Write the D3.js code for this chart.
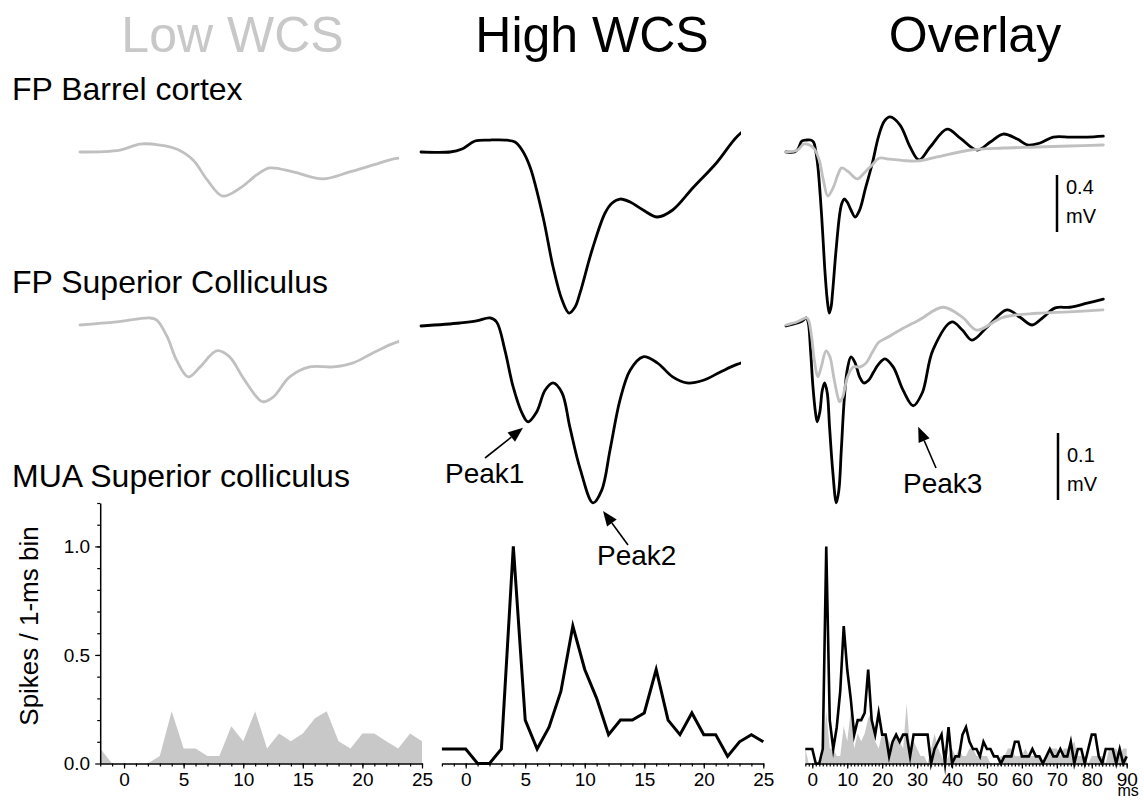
<!DOCTYPE html>
<html><head><meta charset="utf-8">
<script src="https://cdn.jsdelivr.net/npm/d3@7"></script>
<style>body{margin:0;background:#fff} text{font-family:"Liberation Sans",Arial,sans-serif}</style>
</head><body><svg id="c" width="1144" height="800"></svg>
<script>
// ---------- DATA ----------
const columnTitles = ["Low WCS", "High WCS", "Overlay"];
const rowLabels = ["FP Barrel cortex", "FP Superior Colliculus", "MUA Superior colliculus"];

// Field potential, barrel cortex, high WCS (time ms, mV)
const tBarrelHigh = [-2, 0.46, 1.47, 2.57, 3.84, 5.11, 5.96, 6.55, 7.23, 8.33, 9.18, 9.94, 10.53, 11.04, 11.46, 12.48, 13.58, 14.18, 14.85, 15.7, 16.8, 18.0, 19.3, 21.0, 23.0, 24.8, 26.5, 28.1, 31.0, 33.9, 36.5, 39.7, 44.6, 48.4, 53.3, 57.1, 60.8, 64.9, 68.0, 71.5, 75.3, 80.2, 85.1, 89.8];
const vBarrelHigh = [0, 0, 0.021, 0.077, 0.084, 0.084, 0.070, 0.014, -0.105, -0.456, -0.807, -1.039, -1.130, -1.088, -0.989, -0.688, -0.428, -0.358, -0.330, -0.351, -0.407, -0.456, -0.407, -0.253, -0.077, 0.112, 0.218, 0.246, 0.189, 0.035, -0.056, 0.035, 0.161, 0.098, 0.014, 0.070, 0.126, 0.091, 0.049, 0.063, 0.105, 0.105, 0.105, 0.112];
// Field potential, barrel cortex, low WCS
const tBarrelLow = [-2, 1.4, 3.1, 4.8, 6.2, 7.6, 8.8, 10.1, 11.6, 13.0, 14.1, 16.1, 18.6, 20.9, 22.9, 24.9, 28.0, 32.0, 36.0, 41.7, 51.3, 60.8, 70.6, 80.0, 89.8];
const vBarrelLow = [0, 0.014, 0.056, 0.049, 0.021, -0.056, -0.196, -0.309, -0.253, -0.161, -0.112, -0.140, -0.189, -0.140, -0.091, -0.044, -0.050, -0.060, -0.063, -0.035, 0.014, 0.028, 0.035, 0.042, 0.049];
// Field potential, superior colliculus, high WCS
const tSCHigh = [-2, 1.3, 2.7, 3.84, 4.4, 5.1, 5.8, 6.55, 7.06, 7.8, 8.5, 9.18, 9.94, 10.6, 11.5, 12.56, 13.3, 14.0, 14.85, 15.7, 16.8, 18.0, 19.3, 20.5, 21.9, 23.3, 24.8, 26.6, 29, 31.9, 34.8, 37.4, 40.5, 46, 49, 51.8, 56.2, 61.9, 65.7, 69.2, 72.4, 75.9, 80.2, 85.1, 89.8];
const vSCHigh = [0, 0.0045, 0.0075, 0.012, 0.006, -0.036, -0.091, -0.130, -0.143, -0.128, -0.096, -0.085, -0.100, -0.151, -0.215, -0.264, -0.245, -0.185, -0.110, -0.066, -0.046, -0.055, -0.076, -0.085, -0.081, -0.069, -0.057, -0.049, -0.061, -0.096, -0.119, -0.100, -0.036, 0.006, -0.006, -0.021, -0.0015, 0.024, 0.013, 0.0015, 0.013, 0.027, 0.028, 0.034, 0.040];
// Field potential, superior colliculus, low WCS
const tSCLow = [-2, 1.1, 3.9, 4.5, 5.4, 6.2, 7.2, 8.2, 9.6, 10.7, 11.8, 13.0, 13.5, 14.4, 15.8, 17.5, 19.5, 21.2, 22.9, 24.9, 27, 31, 36.5, 43.4, 49.1, 53.2, 60.8, 70.6, 80, 89.7];
const vSCLow = [0.0015, 0.006, 0.012, 0.009, -0.016, -0.051, -0.076, -0.061, -0.037, -0.046, -0.076, -0.106, -0.113, -0.106, -0.076, -0.061, -0.061, -0.055, -0.040, -0.024, -0.018, -0.006, 0.009, 0.028, 0.013, -0.006, 0.013, 0.019, 0.021, 0.024];

// MUA, spikes per 1-ms bin, bins -2 .. 90 ms
const muaBins = d3.range(-2, 91);
const muaHigh = [
  0.067, 0.067, 0.067, 0, 0, 0.067, 1.0, 0.2, 0.067, 0.167, 0.333, 0.633, 0.433, 0.3, 0.133, 0.2, 0.2, 0.233, 0.433, 0.2, 0.133, 0.233, 0.133, 0.133, 0.033, 0.1, 0.133, 0.1,
  0.133, 0.133, 0.033, 0.133, 0.133, 0.133, 0.133, 0.133, 0, 0.067, 0.1, 0.133, 0, 0.167, 0, 0.033, 0.033, 0.133, 0.167, 0.1, 0.067, 0.067, 0.033, 0.1, 0.067, 0.067, 0.033, 0.033, 0,
  0.033, 0.033, 0.033, 0.1, 0.1, 0.033, 0.033, 0.033, 0.067, 0.033, 0.033, 0, 0.033, 0.067, 0.033, 0.033, 0.067, 0.033, 0.033, 0.1, 0, 0.067, 0.067, 0, 0.067, 0.133, 0.133, 0.033, 0,
  0.067, 0.067, 0.067, 0, 0.067, 0, 0.033];
const muaLow = [
  0.069, 0, 0, 0, 0, 0.034, 0.241, 0.069, 0.069, 0.034, 0.034, 0.172, 0.103, 0.241, 0.069, 0.138, 0.103, 0.138, 0.207, 0.241, 0.103, 0.069, 0.138, 0.138, 0.103, 0.069, 0.138, 0.103,
  0.069, 0.276, 0.069, 0.103, 0.069, 0.034, 0.034, 0, 0.069, 0.138, 0.069, 0.034, 0, 0.034, 0.069, 0.034, 0.069, 0.034, 0.034, 0.069, 0.069, 0.034, 0.034, 0.034, 0.034, 0, 0, 0,
  0.034, 0.034, 0.069, 0.069, 0.034, 0.034, 0.034, 0.069, 0.034, 0.034, 0.034, 0.034, 0, 0.034, 0.069, 0.069, 0.069, 0.034, 0.069, 0.069, 0.069, 0.103, 0.034, 0.034, 0.034, 0, 0.034,
  0.034, 0.034, 0.034, 0, 0.069, 0.069, 0.069, 0.034, 0.069, 0.069];

const muaYTicks = [0, 0.5, 1.0];
const shortXTicks = [0, 5, 10, 15, 20, 25];
const longXTicks = [0, 10, 20, 30, 40, 50, 60, 70, 80, 90];
const timeUnit = "ms";
const scaleBars = [{value: 0.4, label: "0.4", unit: "mV"}, {value: 0.1, label: "0.1", unit: "mV"}];
const peakLabels = ["Peak1", "Peak2", "Peak3"];

// ---------- DRAWING ----------
const svg = d3.select("#c");
const BLACK = "#000", GRAY = "#c0c0c0", FILL = "#c8c8c8";
const FONT = '"Liberation Sans", Arial, sans-serif';

const fpX = {
  low: d3.scaleLinear().domain([-2, 25]).range([80, 398]),
  high: d3.scaleLinear().domain([-2, 25]).range([421, 740]),
  over: d3.scaleLinear().domain([-2, 90]).range([786, 1104])
};
const yBarrel = d3.scaleLinear().domain([0, 0.4]).range([152, 95]);
const ySC = d3.scaleLinear().domain([0, 0.1]).range([326, 259]);

const defs = svg.append("defs");
Object.entries(fpX).forEach(([k, s]) => {
  defs.append("clipPath").attr("id", "clip-" + k).append("rect")
    .attr("x", s.range()[0] - 2).attr("y", 0).attr("width", s.range()[1] - s.range()[0] + 3).attr("height", 800);
});

function trace(key, ys, times, vals, color) {
  const xs = fpX[key];
  const pts = times.map((t, i) => [t, vals[i]]);
  svg.append("path").datum(pts)
    .attr("d", d3.line().x(d => xs(d[0])).y(d => ys(d[1])).curve(d3.curveCatmullRom.alpha(0.5)))
    .attr("fill", "none").attr("stroke", color).attr("stroke-width", 2.8)
    .attr("stroke-linejoin", "round").attr("stroke-linecap", "round")
    .attr("clip-path", `url(#clip-${key})`);
}

// Row 1: barrel
trace("low", yBarrel, tBarrelLow, vBarrelLow, GRAY);
trace("high", yBarrel, tBarrelHigh, vBarrelHigh, BLACK);
trace("over", yBarrel, tBarrelHigh, vBarrelHigh, BLACK);
trace("over", yBarrel, tBarrelLow, vBarrelLow, GRAY);
// Row 2: SC
trace("low", ySC, tSCLow, vSCLow, GRAY);
trace("high", ySC, tSCHigh, vSCHigh, BLACK);
trace("over", ySC, tSCHigh, vSCHigh, BLACK);
trace("over", ySC, tSCLow, vSCLow, GRAY);

// ---------- MUA ----------
const muaY = d3.scaleLinear().domain([0, 1.2]).range([763.5, 503]);
const muaX = {
  low: d3.scaleLinear().domain([-2, 25]).range([100.2, 422]),
  high: d3.scaleLinear().domain([-2, 25]).range([441.9, 763.3]),
  over: d3.scaleLinear().domain([-2, 90]).range([805.3, 1126.7])
};
const lowPts = muaBins.map((b, i) => [b, muaLow[i]]);
const highPts = muaBins.map((b, i) => [b, muaHigh[i]]);

function muaArea(key, pts) {
  const xs = muaX[key];
  const dmax = xs.domain()[1];
  svg.append("path").datum(pts.filter(d => d[0] <= dmax))
    .attr("d", d3.area().x(d => xs(d[0])).y0(muaY(0)).y1(d => muaY(d[1])))
    .attr("fill", FILL).attr("stroke", "none");
}
function muaLine(key, pts, w) {
  const xs = muaX[key];
  const dmax = xs.domain()[1];
  svg.append("path").datum(pts.filter(d => d[0] <= dmax))
    .attr("d", d3.line().x(d => xs(d[0])).y(d => muaY(d[1])))
    .attr("fill", "none").attr("stroke", BLACK).attr("stroke-width", w)
    .attr("stroke-linejoin", "miter").attr("stroke-miterlimit", 10);
}
muaArea("low", lowPts);
muaArea("over", lowPts);

function styleAxis(g) {
  g.attr("font-family", FONT);
  g.selectAll(".domain").attr("stroke", BLACK).attr("stroke-width", 1.5);
  g.selectAll(".tick line").attr("stroke", BLACK).attr("stroke-width", 1.2);
  g.selectAll(".tick text").attr("fill", BLACK).attr("font-size", 19);
}
function xAxis(key, majors) {
  const s = muaX[key];
  const [a, b] = s.domain();
  const minors = d3.range(a, b + 1);
  const g1 = svg.append("g").attr("transform", `translate(0,${muaY(0)})`)
    .call(d3.axisBottom(s).tickValues(minors).tickSize(3).tickFormat("").tickSizeOuter(0));
  styleAxis(g1);
  const g2 = svg.append("g").attr("transform", `translate(0,${muaY(0)})`)
    .call(d3.axisBottom(s).tickValues(majors).tickSize(5).tickPadding(4).tickFormat(d3.format("d")).tickSizeOuter(0));
  styleAxis(g2);
  g2.select(".domain").remove();
  return g2;
}
xAxis("low", shortXTicks);
xAxis("high", shortXTicks);
const gOver = xAxis("over", longXTicks);
// last tick label carries the unit on a second line
gOver.selectAll(".tick").filter(d => d === 90).select("text").each(function(d) {
  const t = d3.select(this);
  t.text(null);
  t.append("tspan").attr("x", 0).text(d);
  t.append("tspan").attr("x", 1).attr("dy", 10).attr("font-size", 16).text(timeUnit);
});

// y axis (left panel)
const gyMinor = svg.append("g").attr("transform", `translate(${muaX.low.range()[0]},0)`)
  .call(d3.axisLeft(muaY).tickValues(d3.range(1, 13).map(d => d / 10)).tickSize(3).tickFormat("").tickSizeOuter(0));
styleAxis(gyMinor);
const gyMajor = svg.append("g").attr("transform", `translate(${muaX.low.range()[0]},0)`)
  .call(d3.axisLeft(muaY).tickValues(muaYTicks).tickSize(5).tickPadding(5).tickFormat(d3.format(".1f")).tickSizeOuter(0));
styleAxis(gyMajor);
gyMajor.select(".domain").remove();

muaLine("high", highPts, 3);
muaLine("over", highPts, 2.6);

svg.append("text").attr("transform", `translate(38,626) rotate(-90)`)
  .attr("text-anchor", "middle").attr("font-size", 26).attr("fill", BLACK).text("Spikes / 1-ms bin");

// ---------- TITLES & LABELS ----------
const titleX = [232.5, 592, 975];
const titleColor = ["#c8c8c8", BLACK, BLACK];
columnTitles.forEach((t, i) => {
  svg.append("text").attr("x", titleX[i]).attr("y", 52).attr("text-anchor", "middle")
    .attr("font-size", 50).attr("fill", titleColor[i]).text(t);
});
const rowY = [100, 293, 487];
rowLabels.forEach((t, i) => {
  svg.append("text").attr("x", 12).attr("y", rowY[i]).attr("font-size", 32).attr("fill", BLACK).text(t);
});

// ---------- SCALE BARS ----------
const barDefs = [{x: 1057, top: 175, scale: yBarrel, ty1: 194, ty2: 223},
                 {x: 1058, top: 433, scale: ySC, ty1: 462, ty2: 491}];
scaleBars.forEach((sb, i) => {
  const b = barDefs[i];
  const len = b.scale(0) - b.scale(sb.value);
  svg.append("line").attr("x1", b.x).attr("x2", b.x).attr("y1", b.top).attr("y2", b.top + len)
    .attr("stroke", BLACK).attr("stroke-width", 2.5);
  svg.append("text").attr("x", b.x + 9).attr("y", b.ty1).attr("font-size", 20).attr("fill", BLACK).text(sb.label);
  svg.append("text").attr("x", b.x + 9).attr("y", b.ty2).attr("font-size", 20).attr("fill", BLACK).text(sb.unit);
});

// ---------- PEAK ANNOTATIONS ----------
function troughOf(times, vals, lo, hi) {
  let best = null;
  times.forEach((t, i) => { if (t >= lo && t <= hi && (best === null || vals[i] < vals[best])) best = i; });
  return [times[best], vals[best]];
}
const p1 = troughOf(tSCHigh, vSCHigh, 5, 9);
const p2 = troughOf(tSCHigh, vSCHigh, 10, 15);
const p3 = troughOf(tSCHigh, vSCHigh, 30, 40);
const annots = [
  {pt: [fpX.high(p1[0]), ySC(p1[1])], tip: [-5, 6], tail: [485, 458], label: peakLabels[0], lx: 445, ly: 483},
  {pt: [fpX.high(p2[0]), ySC(p2[1])], tip: [10, 8], tail: [628, 545], label: peakLabels[1], lx: 597, ly: 565},
  {pt: [fpX.over(p3[0]), ySC(p3[1])], tip: [5, 21], tail: [936, 468], label: peakLabels[2], lx: 903, ly: 493}
];
annots.forEach(a => {
  const tx = a.pt[0] + a.tip[0], ty = a.pt[1] + a.tip[1];
  const dx = tx - a.tail[0], dy = ty - a.tail[1];
  const L = Math.hypot(dx, dy), ux = dx / L, uy = dy / L;
  const hl = 15, hw = 6;
  const bx = tx - ux * hl, by = ty - uy * hl;
  svg.append("line").attr("x1", a.tail[0]).attr("y1", a.tail[1]).attr("x2", bx).attr("y2", by)
    .attr("stroke", BLACK).attr("stroke-width", 1.6);
  svg.append("polygon")
    .attr("points", [[tx, ty], [bx - uy * hw, by + ux * hw], [bx + uy * hw, by - ux * hw]].map(p => p.join(",")).join(" "))
    .attr("fill", BLACK);
  svg.append("text").attr("x", a.lx).attr("y", a.ly).attr("font-size", 28).attr("fill", BLACK).text(a.label);
});
</script></body></html>
